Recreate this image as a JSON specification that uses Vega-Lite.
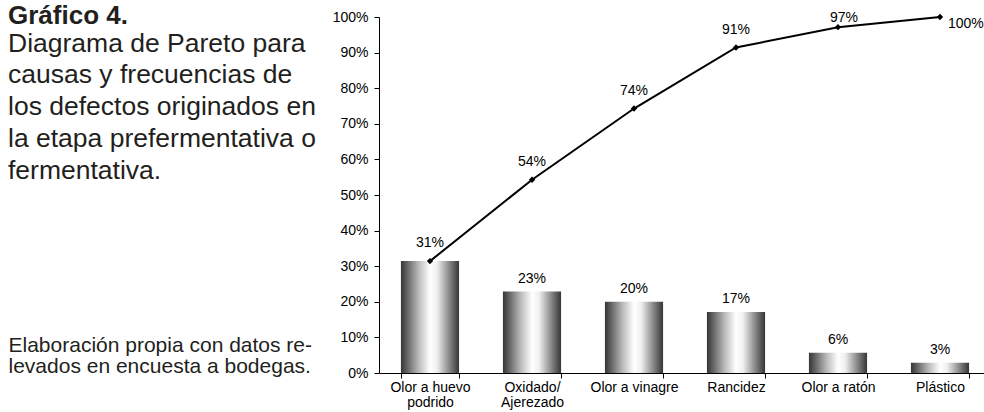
{
  "$schema": "https://vega.github.io/schema/vega-lite/v6.json",
  "width": 612,
  "height": 356,
  "autosize": {"type": "none"},
  "padding": {"left": 379, "top": 17, "right": -7, "bottom": 39},
  "background": "white",
  "config": {
    "font": "Liberation Sans",
    "view": {"stroke": null},
    "axis": {"labelColor": "black", "domainColor": "black", "tickColor": "black", "grid": false}
  },
  "resolve": {"scale": {"y": "shared"}, "axis": {"y": "independent"}},
  "title": {
    "text": "Gráfico 4.",
    "subtitle": [
      "Diagrama de Pareto para",
      "causas y frecuencias de",
      "los defectos originados en",
      "la etapa prefermentativa o",
      "fermentativa."
    ],
    "anchor": "start",
    "frame": "group",
    "orient": "top",
    "offset": 0,
    "dx": -371,
    "dy": 174,
    "font": "Liberation Sans",
    "fontSize": 26,
    "fontWeight": "bold",
    "color": "#231f20",
    "subtitleFont": "Liberation Sans",
    "subtitleFontSize": 26.5,
    "subtitleLineHeight": 31.75,
    "subtitlePadding": 2,
    "subtitleColor": "#231f20"
  },
  "data": {
    "values": [
      {"causa": "Olor a huevo podrido", "pct": 0.3143, "acum": 0.3143},
      {"causa": "Oxidado/Ajerezado", "pct": 0.2286, "acum": 0.5429},
      {"causa": "Olor a vinagre", "pct": 0.2, "acum": 0.7429},
      {"causa": "Rancidez", "pct": 0.1714, "acum": 0.9143},
      {"causa": "Olor a ratón", "pct": 0.0571, "acum": 0.9714},
      {"causa": "Plástico", "pct": 0.0286, "acum": 1.0}
    ]
  },
  "encoding": {
    "x": {
      "field": "causa",
      "type": "nominal",
      "sort": null,
      "scale": {"paddingInner": 0.43, "paddingOuter": 0.215},
      "axis": {
        "title": null,
        "labelAngle": 0,
        "tickBand": "extent",
        "tickSize": 5,
        "labelPadding": 2,
        "labelFontSize": 14,
        "labelLineHeight": 15,
        "labelBaseline": "top",
        "labelExpr": "datum.label == 'Olor a huevo podrido' ? ['Olor a huevo', 'podrido'] : datum.label == 'Oxidado/Ajerezado' ? ['Oxidado/', 'Ajerezado'] : datum.label"
      }
    }
  },
  "layer": [
    {
      "mark": {
        "type": "bar",
        "color": {
          "gradient": "linear",
          "x1": 0, "y1": 0, "x2": 1, "y2": 0,
          "stops": [
            {"offset": 0, "color": "#353535"},
            {"offset": 0.3, "color": "#b8b8b8"},
            {"offset": 0.5, "color": "#ffffff"},
            {"offset": 0.62, "color": "#f0f0f0"},
            {"offset": 1, "color": "#353535"}
          ]
        }
      },
      "encoding": {
        "y": {
          "field": "pct",
          "type": "quantitative",
          "scale": {"domain": [0, 1], "nice": false},
          "axis": {
            "values": [0, 0.1, 0.2, 0.3, 0.4, 0.5, 0.6, 0.7, 0.8, 0.9, 1],
            "format": ".0%",
            "labelOverlap": false,
            "tickSize": 5,
            "labelPadding": 6,
            "labelFontSize": 14,
            "title": ["Elaboración propia con datos re-", "levados en encuesta a bodegas."],
            "titleAngle": 0,
            "titleAlign": "left",
            "titleBaseline": "alphabetic",
            "titleX": -371,
            "titleY": 334,
            "titleFontSize": 21,
            "titleFontWeight": "normal",
            "titleLineHeight": 21,
            "titleColor": "#231f20",
            "titleFont": "Liberation Sans"
          }
        }
      }
    },
    {
      "transform": [{"filter": "datum.pct < 0.3"}],
      "mark": {"type": "text", "baseline": "bottom", "dy": -6, "fontSize": 14, "color": "black"},
      "encoding": {
        "y": {"field": "pct", "type": "quantitative", "axis": null},
        "text": {"field": "pct", "type": "quantitative", "format": ".0%"}
      }
    },
    {
      "mark": {"type": "line", "color": "black", "strokeWidth": 2},
      "encoding": {"y": {"field": "acum", "type": "quantitative", "axis": null}}
    },
    {
      "mark": {"type": "point", "shape": "diamond", "filled": true, "color": "black", "size": 40, "opacity": 1},
      "encoding": {"y": {"field": "acum", "type": "quantitative", "axis": null}}
    },
    {
      "transform": [{"filter": "datum.acum < 0.95"}],
      "mark": {"type": "text", "dy": -18, "fontSize": 14, "color": "black"},
      "encoding": {
        "y": {"field": "acum", "type": "quantitative", "axis": null},
        "text": {"field": "acum", "type": "quantitative", "format": ".0%"}
      }
    },
    {
      "transform": [{"filter": "datum.acum > 0.95 && datum.acum < 0.99"}],
      "mark": {"type": "text", "dx": 6, "dy": -9, "fontSize": 14, "color": "black"},
      "encoding": {
        "y": {"field": "acum", "type": "quantitative", "axis": null},
        "text": {"field": "acum", "type": "quantitative", "format": ".0%"}
      }
    },
    {
      "transform": [{"filter": "datum.acum > 0.99"}],
      "mark": {"type": "text", "align": "left", "dx": 8, "dy": 7, "fontSize": 14, "color": "black"},
      "encoding": {
        "y": {"field": "acum", "type": "quantitative", "axis": null},
        "text": {"field": "acum", "type": "quantitative", "format": ".0%"}
      }
    }
  ]
}
